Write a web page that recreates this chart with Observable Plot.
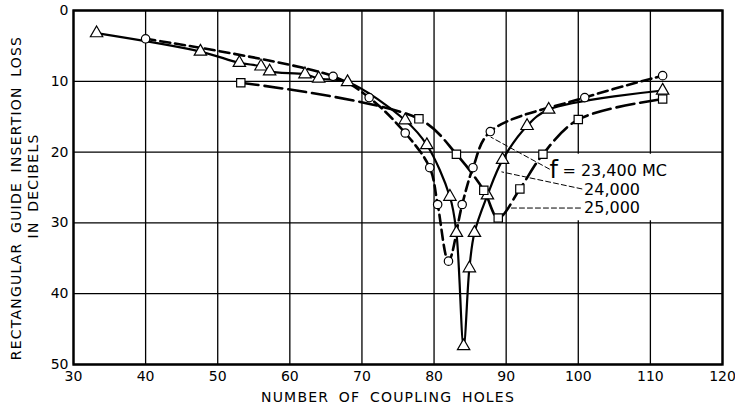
<!DOCTYPE html>
<html>
<head>
<meta charset="utf-8">
<script src="https://cdn.jsdelivr.net/npm/d3@7"></script>
<script src="https://cdn.jsdelivr.net/npm/@observablehq/plot@0.6"></script>
<style>
  html, body { margin: 0; padding: 0; background: white; }
  #chart { width: 735px; height: 409px; }
</style>
</head>
<body>
<div id="chart"></div>
<script>
// Frequency series
const seriesNames = ["23,400 MC", "24,000", "25,000"];

// 23,400 MC (circles, short dashes)
const holes23400 = [40, 66, 71, 76, 79.4, 80.5, 82, 83.9, 85.4, 87.8, 100.9, 111.7];
const loss23400  = [4, 9.3, 12.3, 17.3, 22.2, 27.4, 35.4, 27.4, 22.2, 17.1, 12.3, 9.2];

// 24,000 MC (triangles, solid)
const holes24000 = [33.2, 47.6, 53, 56, 57.2, 62.1, 64, 68, 76, 79, 82.2, 83.1, 84.1, 84.9, 85.6, 87.4, 89.5, 92.9, 95.9, 111.7];
const loss24000  = [3.2, 5.8, 7.4, 7.9, 8.6, 9.0, 9.6, 10.1, 15.5, 19.0, 26.3, 31.4, 47.4, 36.4, 31.4, 26.1, 21.1, 16.3, 14.0, 11.3];

// 25,000 MC (squares, long dashes)
const holes25000 = [53.2, 77.9, 83.1, 86.9, 88.9, 91.9, 95.1, 100, 111.7];
const loss25000  = [10.2, 15.3, 20.3, 25.4, 29.3, 25.2, 20.3, 15.4, 12.5];

// Tick labels
const xTicks = [30, 40, 50, 60, 70, 80, 90, 100, 110, 120];
const yTicks = [0, 10, 20, 30, 40, 50];

// Annotation (label block and leader arrows, data coordinates)
const labelBox = [{x1: 95, x2: 119.8, y1: 20.3, y2: 29.7}];
const leaderArrows = [
  {x1: 96.0, y1: 22.4, x2: 87.9, y2: 17.9, bend: 12},
  {x1: 100.5, y1: 25.2, x2: 89.4, y2: 22.8, bend: 10},
  {x1: 100.3, y1: 27.9, x2: 90.3, y2: 27.9, bend: 0}
];
const labelTexts = [
  {x: 97.8, y: 22.7, text: "= 23,400 MC"},
  {x: 100.8, y: 25.3, text: "24,000"},
  {x: 100.8, y: 27.9, text: "25,000"}
];
const fLabel = [{x: 96.0, y: 22.6, text: "f"}];

const toRows = (xs, ys) => xs.map((x, i) => ({x, y: ys[i]}));
const d1 = toRows(holes23400, loss23400);
const d2 = toRows(holes24000, loss24000);
const d3s = toRows(holes25000, loss25000);

const font = "DejaVu Sans, sans-serif";

const chart = Plot.plot({
  width: 735,
  height: 409,
  marginLeft: 73,
  marginRight: 13,
  marginTop: 10,
  marginBottom: 45,
  style: {fontFamily: font, fontSize: "14px", color: "black", background: "white"},
  x: {domain: [30, 120], ticks: xTicks, tickSize: 0, tickPadding: 7, label: null},
  y: {domain: [0, 50], reverse: true, ticks: yTicks, tickSize: 0, tickPadding: 5, label: null},
  marks: [
    Plot.ruleX(xTicks, {stroke: "black", strokeWidth: 1.3}),
    Plot.ruleY(yTicks, {stroke: "black", strokeWidth: 1.3}),
    Plot.rect(labelBox, {x1: "x1", x2: "x2", y1: "y1", y2: "y2", fill: "white"}),
    Plot.frame({stroke: "black", strokeWidth: 2.4}),
    Plot.line(d3s, {x: "x", y: "y", curve: "catmull-rom", stroke: "black", strokeWidth: 2.6, strokeDasharray: "18,6"}),
    Plot.line(d1, {x: "x", y: "y", curve: "catmull-rom", stroke: "black", strokeWidth: 2.6, strokeDasharray: "10,5"}),
    Plot.line(d2, {x: "x", y: "y", curve: "catmull-rom", stroke: "black", strokeWidth: 2.2}),
    Plot.dot(d1, {x: "x", y: "y", symbol: "circle", r: 4.2, fill: "white", stroke: "black", strokeWidth: 1.2}),
    Plot.dot(d2, {x: "x", y: "y", symbol: "triangle", r: 4.6, fill: "white", stroke: "black", strokeWidth: 1.2}),
    Plot.dot(d3s, {x: "x", y: "y", symbol: "square", r: 4.7, fill: "white", stroke: "black", strokeWidth: 1.2}),
    Plot.arrow(leaderArrows, {x1: "x1", y1: "y1", x2: "x2", y2: "y2", bend: "bend", stroke: "black", strokeWidth: 1, strokeDasharray: "5,3", headLength: 8}),
    Plot.text(labelTexts, {x: "x", y: "y", text: "text", textAnchor: "start", fontSize: 16, fill: "black"}),
    Plot.text(fLabel, {x: "x", y: "y", text: "text", textAnchor: "start", fontSize: 24, fill: "black"})
  ]
});

const svg = d3.select(chart);
svg.append("text")
  .attr("x", 388).attr("y", 402)
  .attr("text-anchor", "middle")
  .attr("font-family", font).attr("font-size", 14)
  .attr("letter-spacing", "1.2px").attr("word-spacing", "4px")
  .attr("fill", "black")
  .text("NUMBER OF COUPLING HOLES");
svg.append("text")
  .attr("transform", "translate(21,198) rotate(-90)")
  .attr("text-anchor", "middle")
  .attr("font-family", font).attr("font-size", 14)
  .attr("letter-spacing", "1.2px").attr("word-spacing", "4px")
  .attr("fill", "black")
  .text("RECTANGULAR GUIDE INSERTION LOSS");
svg.append("text")
  .attr("transform", "translate(38,186) rotate(-90)")
  .attr("text-anchor", "middle")
  .attr("font-family", font).attr("font-size", 14)
  .attr("letter-spacing", "1.2px").attr("word-spacing", "4px")
  .attr("fill", "black")
  .text("IN DECIBELS");

document.getElementById("chart").appendChild(chart);
</script>
</body>
</html>
